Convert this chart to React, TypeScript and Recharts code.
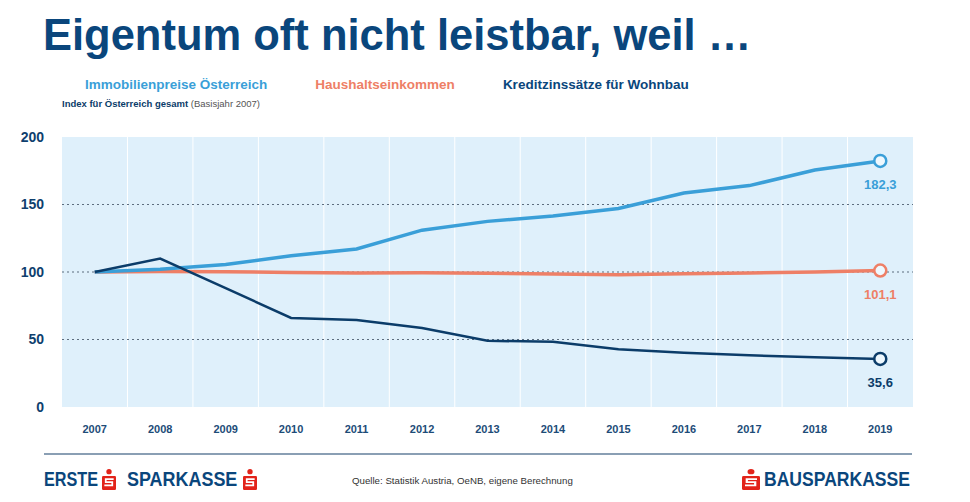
import { LineChart, Line, XAxis, YAxis, CartesianGrid } from "recharts";

const years = ["2007", "2008", "2009", "2010", "2011", "2012", "2013", "2014", "2015", "2016", "2017", "2018", "2019"];
const immobilienpreise = [100, 102, 105.5, 112, 117, 131, 137.5, 141.5, 147, 158.5, 164, 175.5, 182.3];
const haushaltseinkommen = [100, 100.3, 100.2, 99.6, 99.3, 99.5, 99, 98.5, 98, 98.7, 99.3, 100, 101.1];
const kreditzinssaetze = [100, 110, 88, 66, 64.4, 58.5, 49, 48.4, 42.7, 40.2, 38.3, 36.8, 35.6];
const yTicks = [0, 50, 100, 150, 200];
const dottedLevels = [50, 100, 150];

const series = [
  { key: "haushalt", name: "Haushaltseinkommen", color: "#ee7f66", width: 3.5, values: haushaltseinkommen },
  { key: "immo", name: "Immobilienpreise Österreich", color: "#3a9fd8", width: 3.5, values: immobilienpreise },
  { key: "kredit", name: "Kreditzinssätze für Wohnbau", color: "#0b3c69", width: 2.5, values: kreditzinssaetze },
];
const legendOrder = ["immo", "haushalt", "kredit"];

const data = years.map((year, i) => ({
  year,
  immo: immobilienpreise[i],
  haushalt: haushaltseinkommen[i],
  kredit: kreditzinssaetze[i],
}));

const navy = "#0a467c";
const font = "'Liberation Sans', Arial, sans-serif";

// plot area: 62..913 horizontally, 13 year bands
const plotWidth = 970 - 62 - 57;
const halfBand = plotWidth / years.length / 2;

const fmt = (v: number) => v.toFixed(1).replace(".", ",");

function SparkasseIcon({ w = 14, h = 21 }: { w?: number; h?: number }) {
  return (
    <svg width={w} height={h} viewBox="0 0 12 18" preserveAspectRatio="none" style={{ display: "block" }}>
      <circle cx="6" cy="2.3" r="2.3" fill="#e2231a" />
      <rect x="0" y="6" width="12" height="12" rx="1" fill="#e2231a" />
      <path d="M10 8.6 H3.2 V11.3 H8.8 V14 H2" stroke="#fff" strokeWidth="1.5" fill="none" />
    </svg>
  );
}

function makeDot(color: string) {
  return (props: any) => {
    const { cx, cy, index, value } = props;
    if (index !== years.length - 1) return <g key={`d${index}`} />;
    return (
      <g key={`d${index}`}>
        <circle cx={cx} cy={cy} r={6} fill="#eef8fe" stroke={color} strokeWidth={2.5} />
        <text x={cx} y={cy + 28} textAnchor="middle" fill={color} fontSize={13} fontWeight="bold" fontFamily={font}>
          {fmt(Array.isArray(value) ? value[1] : value)}
        </text>
      </g>
    );
  };
}

export default function App() {
  return (
    <div style={{ position: "absolute", left: 0, top: 0, width: 970, height: 502, background: "#fff", fontFamily: font, overflow: "hidden" }}>
      <div style={{ position: "absolute", left: 43, top: 11, fontSize: 43.5, fontWeight: "bold", color: navy, whiteSpace: "nowrap" }}>
        Eigentum oft nicht leistbar, weil …
      </div>

      <div style={{ position: "absolute", left: 85, top: 77, display: "flex", gap: 48, fontSize: 13.5, fontWeight: "bold", whiteSpace: "nowrap" }}>
        {legendOrder.map((k) => {
          const s = series.find((x) => x.key === k)!;
          return (
            <span key={k} style={{ color: k === "kredit" ? navy : s.color }}>
              {s.name}
            </span>
          );
        })}
      </div>
      <div style={{ position: "absolute", left: 62, top: 98, fontSize: 9.5, color: "#0b3c69", whiteSpace: "nowrap" }}>
        <b>Index für Österreich gesamt</b> <span style={{ color: "#555" }}>(Basisjahr 2007)</span>
      </div>

      <div style={{ position: "absolute", left: 0, top: 0 }}>
        <LineChart width={970} height={460} data={data} margin={{ top: 137, right: 57, left: 0, bottom: 23 }}>
          <CartesianGrid
            horizontal={false}
            stroke="#ffffff"
            strokeWidth={1}
            fill="#dff0fb"
            fillOpacity={1}
            verticalCoordinatesGenerator={({ offset }: any) =>
              years.slice(1).map((_, i) => offset.left + (offset.width * (i + 1)) / years.length)
            }
          />
          <CartesianGrid vertical={false} horizontalValues={dottedLevels} stroke="#5d6d7e" strokeDasharray="2 3" strokeWidth={1.2} />
          <XAxis
            dataKey="year"
            axisLine={false}
            tickLine={false}
            height={30}
            tickMargin={12}
            padding={{ left: halfBand, right: halfBand }}
            tick={{ fill: "#1d4c78", fontSize: 11, fontWeight: "bold", fontFamily: font }}
            interval={0}
          />
          <YAxis
            domain={[0, 200]}
            ticks={yTicks}
            axisLine={false}
            tickLine={false}
            width={62}
            tickMargin={12}
            tick={{ fill: "#0f3f6e", fontSize: 14, fontWeight: "bold", fontFamily: font }}
          />
          {series.map((s) => (
            <Line
              key={s.key}
              dataKey={s.key}
              name={s.name}
              type="linear"
              stroke={s.color}
              strokeWidth={s.width}
              dot={makeDot(s.color)}
              activeDot={false}
              isAnimationActive={false}
            />
          ))}
        </LineChart>
      </div>

      <div style={{ position: "absolute", left: 44, top: 453, width: 868, height: 2, background: "#8a9fb4" }} />

      <div style={{ position: "absolute", left: 44, top: 468, display: "flex", alignItems: "flex-end", color: navy, fontWeight: "bold", fontSize: 19.5, lineHeight: "22px" }}>
        <span style={{ display: "inline-block", transform: "scaleX(0.83)", transformOrigin: "left bottom", width: 58 }}>ERSTE</span>
        <SparkasseIcon />
        <span style={{ display: "inline-block", transform: "scaleX(0.92)", transformOrigin: "left bottom", width: 116, marginLeft: 11 }}>SPARKASSE</span>
        <SparkasseIcon />
      </div>

      <div style={{ position: "absolute", left: 352, top: 475, fontSize: 9.7, color: "#333", whiteSpace: "nowrap" }}>
        Quelle: Statistik Austria, OeNB, eigene Berechnung
      </div>

      <div style={{ position: "absolute", left: 742, top: 468, display: "flex", alignItems: "flex-end", gap: 4, color: navy, fontWeight: "bold", fontSize: 19.5, lineHeight: "22px" }}>
        <SparkasseIcon w={18} />
        <span style={{ display: "inline-block", transform: "scaleX(0.9)", transformOrigin: "left bottom", width: 150 }}>BAUSPARKASSE</span>
      </div>
    </div>
  );
}
